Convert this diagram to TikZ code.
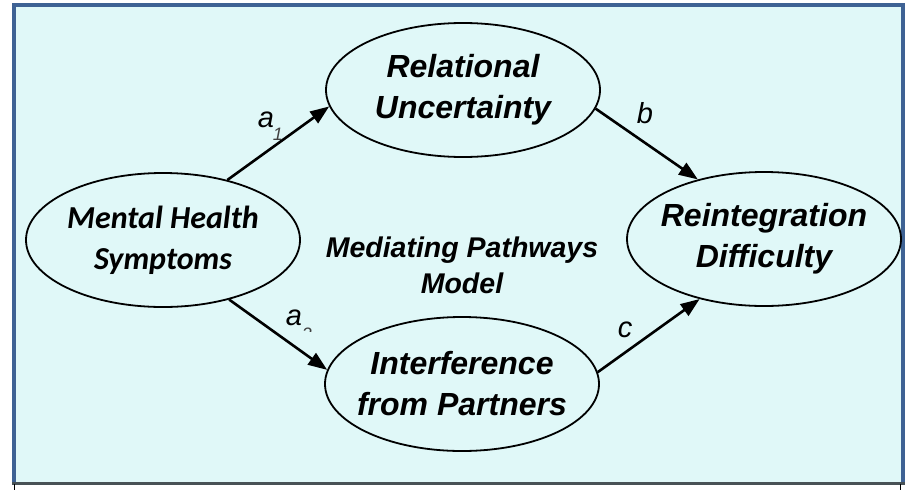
\documentclass[tikz,border=0pt]{standalone}
\usepackage{fontspec}
\setmainfont{Liberation Sans}
\newfontfamily\carlitofont{Carlito}
\usetikzlibrary{arrows.meta,shapes.geometric}
\definecolor{panelfill}{RGB}{224,248,248}
\definecolor{panelblue}{RGB}{62,98,148}
\definecolor{panelgray}{RGB}{72,82,86}
\begin{document}
\begin{tikzpicture}[x=1pt,y=-1pt,
  var/.style={ellipse, draw, line width=1.8pt, minimum width=274pt, minimum height=134pt,
    inner xsep=-60pt, inner ysep=-30pt, align=center, font=\fontsize{32}{41}\selectfont\bfseries\itshape},
  pathline/.style={line width=2.6pt, -{Triangle[length=19pt,width=14pt]}},
  lab/.style={font=\fontsize{29}{29}\selectfont\itshape, inner sep=0pt},
  sublab/.style={font=\fontsize{18}{18}\selectfont\itshape, inner sep=0pt, text=black!75}]
\useasboundingbox (0,0) rectangle (909,490);
\fill[white] (0,0) rectangle (909,490);
\fill[panelfill] (14,5) rectangle (903,483);
\draw[panelblue, line width=4pt] (14,483) -- (14,5) -- (903,5) -- (903,483);
\draw[panelgray, line width=3pt] (12,483) -- (905,483);
\draw[black, line width=0.8pt] (14.5,484) -- (14.5,490);
\draw[black, line width=0.8pt] (900,484) -- (900,490);

\node[var, font=\fontsize{32}{41}\selectfont\carlitofont\bfseries\itshape] (mh) at (163,240) {Mental Health\\Symptoms};
\node[var] (ru) at (463,90) {Relational\\Uncertainty};
\node[var] (rd) at (764,239) {Reintegration\\Difficulty};
\node[var] (ip) at (462,384) {Interference\\from Partners};
\node[font=\fontsize{28.5}{36}\selectfont\bfseries\itshape, align=center, inner sep=0pt] (mid) at (462,265) {Mediating Pathways\\Model};

\draw[pathline] (mh.43) -- (ru.187);
\draw[pathline] (ru.-8) -- (rd.138);
\draw[pathline] (mh.-42) -- (ip.174);
\draw[pathline] (ip.5) -- (rd.-137);

\node[lab] (la1) at (266,120) {a};
\node[sublab] (sa1) at (278,134) {1};
\node[lab] (la2) at (294,318) {a};
\begin{scope}
  \clip (296,320) rectangle (320,331);
  \node[sublab] (sa2) at (307,334) {2};
\end{scope}
\node[lab] (lb) at (645,113) {b};
\node[lab] (lc) at (625,330) {c};
\end{tikzpicture}
\end{document}
